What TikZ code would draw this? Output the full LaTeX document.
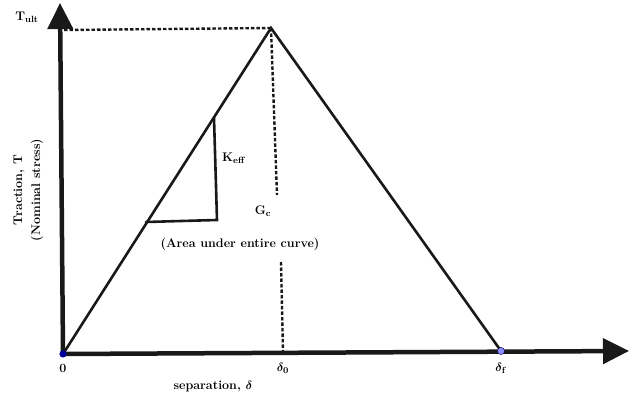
\documentclass[tikz,border=0pt]{standalone}
\usepackage{amsmath,bm}
\usetikzlibrary{arrows.meta}
\begin{document}
\begin{tikzpicture}[x=1pt,y=-1pt,
  axisline/.style={line width=4.5pt,black!90,-{Triangle[length=26pt,width=25pt]}},
  curveline/.style={line width=2.6pt,black!90,line cap=round},
  dashline/.style={line width=2.4pt,black!90,dash pattern=on 3.5pt off 2pt},
  lbl/.style={font=\bfseries\fontsize{12.5}{15}\selectfont,inner sep=0pt}]
\useasboundingbox (0,0) rectangle (630,406);
\coordinate (O) at (63,354);
\coordinate (Ytip) at (60,3);
\coordinate (Xtip) at (629,351);
\coordinate (P) at (271,28);
\coordinate (F) at (501,351);
\coordinate (H) at (64,30);
\coordinate (D1) at (277,195);
\coordinate (D2) at (281,262);
\coordinate (D3) at (283,351);
\coordinate (K1) at (214,118);
\coordinate (K2) at (217,220);
\coordinate (K3) at (146,222);
\draw[dashline] (H) -- (P);
\draw[dashline] (P) -- (D1);
\draw[dashline] (D2) -- (D3);
\draw[curveline] (O) -- (P) -- (F);
\draw[curveline] (K1) -- (K2) -- (K3);
\draw[axisline] (O) -- (Xtip);
\draw[axisline] (O) -- (Ytip);
\fill[blue!60!black] (O) circle (3.6pt);
\fill[blue!45!white,draw=blue!30!black,line width=0.4pt] (F) circle (3.6pt);
\node[lbl] (tult) at (27,17) {T$_{\mathbf{ult}}$};
\node[lbl,rotate=90] (trac) at (19,190) {Traction, T};
\node[lbl,rotate=90] (nom) at (37,190) {(Nominal stress)};
\node[lbl] (keff) at (234,158) {K$_{\mathbf{eff}}$};
\node[lbl] (gc) at (263,211) {G$_{\mathbf{c}}$};
\node[lbl] (area) at (240,244) {(Area under entire curve)};
\node[lbl] (zero) at (63,368) {0};
\node[lbl] (d0) at (283,368) {$\bm{\delta}_{\mathbf{0}}$};
\node[lbl] (df) at (501,368) {$\bm{\delta}_{\mathbf{f}}$};
\node[lbl] (sep) at (213,386) {separation, $\bm{\delta}$};
\end{tikzpicture}
\end{document}
